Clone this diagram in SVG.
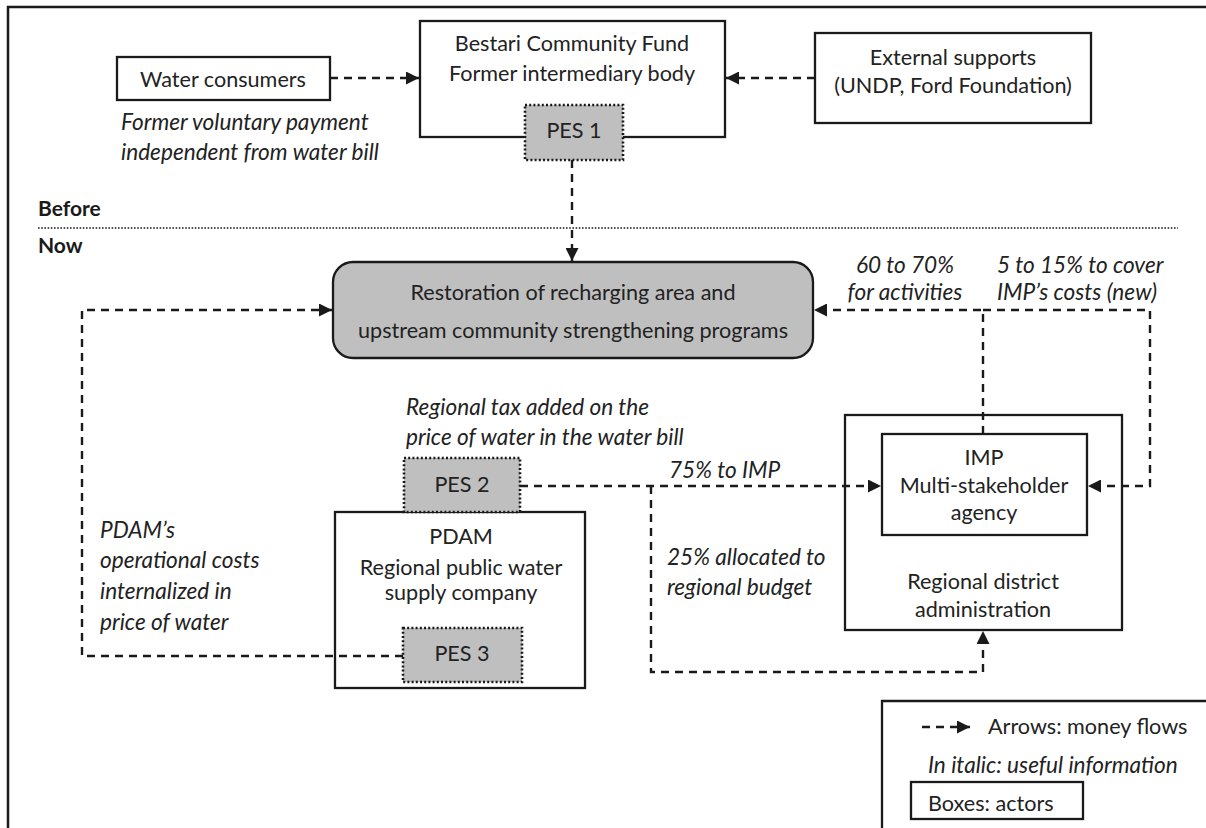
<svg xmlns="http://www.w3.org/2000/svg" width="1206" height="828" viewBox="0 0 1206 828">
<style>
.t{font-family:Lato,"Liberation Sans",sans-serif;font-size:21.6px;fill:#222;text-anchor:middle}
.ts{font-family:Lato,"Liberation Sans",sans-serif;font-size:21.6px;fill:#222}
.i{font-family:Lato,"Liberation Sans",sans-serif;font-size:22.6px;fill:#222;font-style:italic}
.ic{text-anchor:middle}
.b{font-family:Lato,"Liberation Sans",sans-serif;font-size:21px;fill:#1a1a1a;font-weight:bold}
.box{fill:#fff;stroke:#1a1a1a;stroke-width:2.3}
.pes{fill:#bfbfbf;stroke:#1a1a1a;stroke-width:2.6;stroke-dasharray:2 2.2}
.fl{fill:none;stroke:#1a1a1a;stroke-width:2.4;stroke-dasharray:8 6}
</style>
<defs>
<marker id="ah" viewBox="0 0 10 10" refX="10" refY="5" markerWidth="13" markerHeight="13" markerUnits="userSpaceOnUse" orient="auto">
<path d="M0,0 L10,5 L0,10 z" fill="#1a1a1a"/>
</marker>
</defs>
<rect width="1206" height="828" fill="#fff"/>
<path d="M8,828 V7 H1206" fill="none" stroke="#1a1a1a" stroke-width="2.5"/>
<text class="b" x="38" y="216">Before</text>
<line x1="38" y1="228" x2="1178" y2="228" stroke="#1a1a1a" stroke-width="1.6" stroke-dasharray="1.6 1.6"/>
<text class="b" x="38" y="253">Now</text>

<g id="water-consumers">
<rect class="box" x="117" y="57" width="213" height="43"/>
<text class="t" x="223" y="87">Water consumers</text>
<text class="i" x="121" y="130">Former voluntary payment</text>
<text class="i" x="121" y="160">independent from water bill</text>
</g>

<g id="bestari">
<rect class="box" x="420" y="21" width="305" height="116"/>
<text class="t" x="572" y="51">Bestari Community Fund</text>
<text class="t" x="572" y="81">Former intermediary body</text>
</g>
<g id="pes1">
<rect class="pes" x="525" y="105" width="98" height="55"/>
<text class="t" x="574" y="138">PES 1</text>
</g>

<g id="external">
<rect class="box" x="815" y="33" width="276" height="90"/>
<text class="t" x="953" y="65">External supports</text>
<text class="t" x="953" y="93">(UNDP, Ford Foundation)</text>
</g>

<g id="restoration">
<rect x="333" y="262" width="480" height="96" rx="20" fill="#bfbfbf" stroke="#1a1a1a" stroke-width="2.3"/>
<text class="t" x="573" y="300">Restoration of recharging area and</text>
<text class="t" x="573" y="338">upstream community strengthening programs</text>
</g>

<g id="labels-imp">
<text class="i ic" x="905" y="273">60 to 70%</text>
<text class="i ic" x="905" y="300">for activities</text>
<text class="i" x="997" y="273">5 to 15% to cover</text>
<text class="i" x="997" y="300">IMP’s costs (new)</text>
</g>

<g id="pdam">
<rect class="box" x="335" y="512" width="250" height="176"/>
<text class="t" x="461" y="544">PDAM</text>
<text class="t" x="461" y="575">Regional public water</text>
<text class="t" x="461" y="600">supply company</text>
</g>
<g id="pes2">
<text class="i" x="406" y="415">Regional tax added on the</text>
<text class="i" x="406" y="445">price of water in the water bill</text>
<rect class="pes" x="404" y="458" width="116" height="54"/>
<text class="t" x="462" y="492">PES 2</text>
</g>
<g id="pes3">
<rect class="pes" x="403" y="628" width="119" height="54"/>
<text class="t" x="462" y="661">PES 3</text>
</g>
<g id="pdam-note">
<text class="i" x="100" y="538">PDAM’s</text>
<text class="i" x="100" y="568">operational costs</text>
<text class="i" x="100" y="599">internalized in</text>
<text class="i" x="100" y="630">price of water</text>
</g>

<g id="flow-labels">
<text class="i" x="669" y="478">75% to IMP</text>
<text class="i" x="667" y="565">25% allocated to</text>
<text class="i" x="667" y="595">regional budget</text>
</g>

<g id="admin">
<rect class="box" x="845" y="415" width="277" height="215"/>
<text class="t" x="983" y="589">Regional district</text>
<text class="t" x="983" y="617">administration</text>
</g>
<g id="imp">
<rect class="box" x="882" y="434" width="205" height="101"/>
<text class="t" x="984" y="465">IMP</text>
<text class="t" x="984" y="493">Multi-stakeholder</text>
<text class="t" x="984" y="520">agency</text>
</g>

<g id="legend">
<path d="M882,828 V701 H1206" fill="none" stroke="#1a1a1a" stroke-width="2.3"/>
<path class="fl" d="M922,727 H970" stroke-dasharray="6 5" marker-end="url(#ah)"/>
<text class="ts" x="988" y="734">Arrows: money flows</text>
<text class="i" x="928" y="773">In italic: useful information</text>
<rect class="box" x="911" y="782" width="172" height="37"/>
<text class="ts" x="928" y="811">Boxes: actors</text>
</g>

<g id="connectors">
<path class="fl" d="M330,78 H419" marker-end="url(#ah)"/>
<path class="fl" d="M815,78 H726" marker-end="url(#ah)"/>
<path class="fl" d="M572,160 V261" marker-end="url(#ah)"/>
<path class="fl" d="M983,434 V310 H814" marker-end="url(#ah)"/>
<path class="fl" d="M983,310 H1150 V486 H1088" marker-end="url(#ah)"/>
<path class="fl" d="M520,486 H881" marker-end="url(#ah)"/>
<path class="fl" d="M651,486 V672 H983 V631" marker-end="url(#ah)"/>
<path class="fl" d="M403,656 H82 V310 H332" marker-end="url(#ah)"/>
</g>
</svg>
